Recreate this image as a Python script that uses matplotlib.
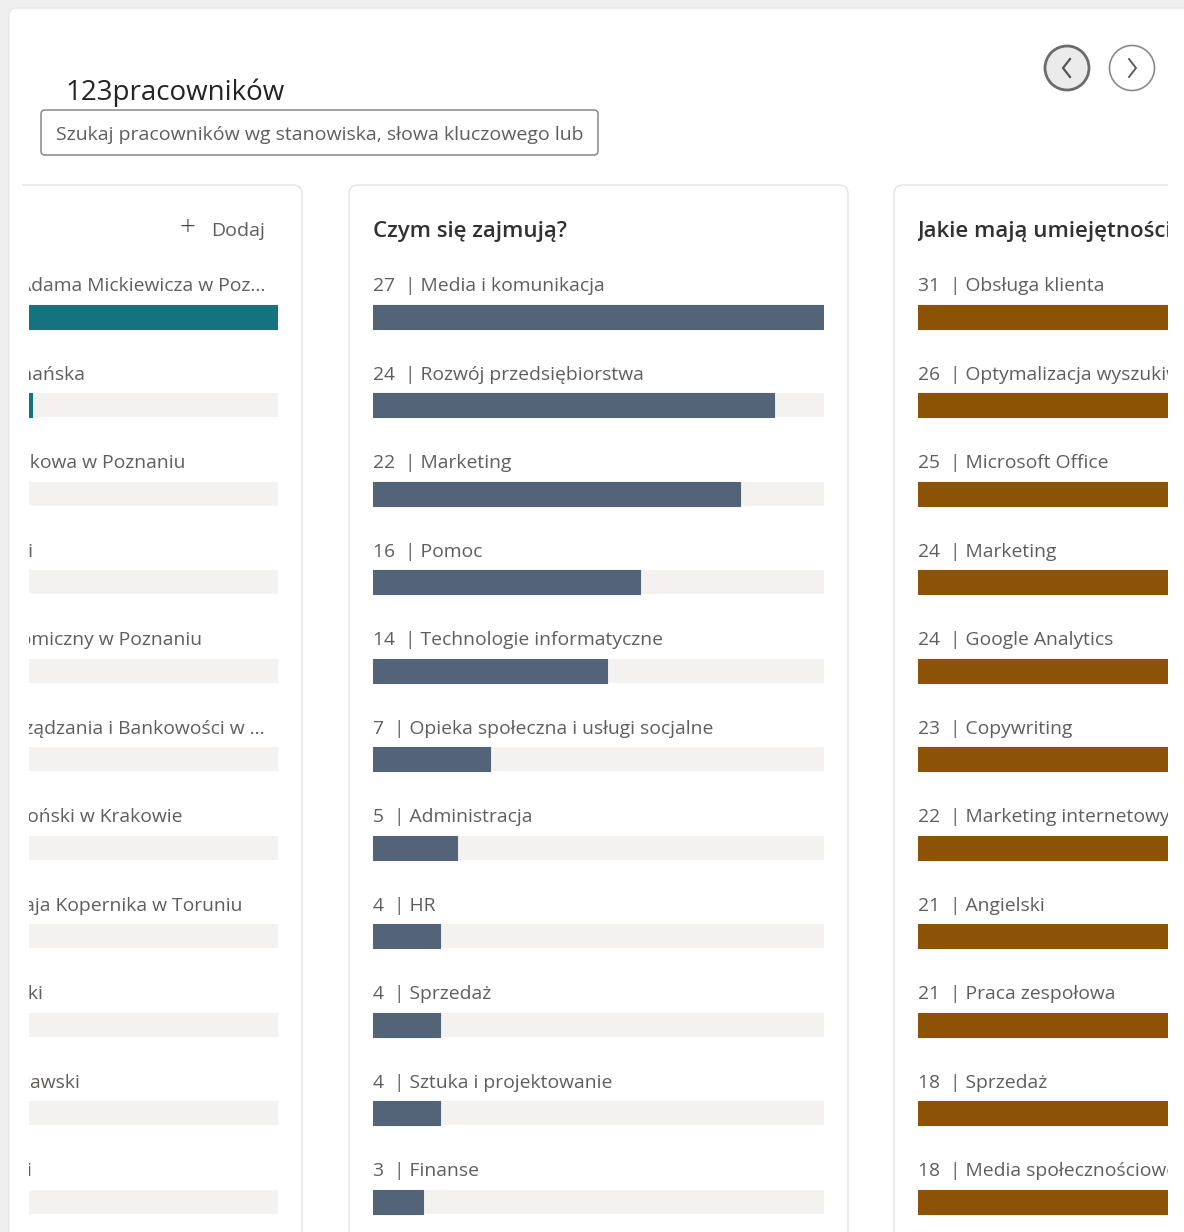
import matplotlib
matplotlib.use("Agg")
import matplotlib.pyplot as plt
from matplotlib.patches import FancyBboxPatch, Rectangle, Circle

plt.rcParams['font.family'] = ['Open Sans', 'DejaVu Sans']

# dane
title = "123pracowników"
search_hint = "Szukaj pracowników wg stanowiska, słowa kluczowego lub firmy"

school_title = "Gdzie studiowali?"
school_names = ["Uniwersytet im. Adama Mickiewicza w Poz...", "Politechnika Poznańska",
                "Wyższa Szkoła Bankowa w Poznaniu", "Uniwersytet Łódzki",
                "Uniwersytet Ekonomiczny w Poznaniu", "Wyższa Szkoła Zarządzania i Bankowości w ...",
                "Uniwersytet Jagielloński w Krakowie", "Uniwersytet Mikołaja Kopernika w Toruniu",
                "Uniwersytet Opolski", "Uniwersytet Warszawski", "Uniwersytet Kaliski"]
school_counts = [22, 10, 9, 8, 8, 7, 7, 6, 5, 5, 5]

job_title = "Czym się zajmują?"
job_names = ["Media i komunikacja", "Rozwój przedsiębiorstwa", "Marketing", "Pomoc",
             "Technologie informatyczne", "Opieka społeczna i usługi socjalne", "Administracja",
             "HR", "Sprzedaż", "Sztuka i projektowanie", "Finanse"]
job_counts = [27, 24, 22, 16, 14, 7, 5, 4, 4, 4, 3]

skill_title = "Jakie mają umiejętności?"
skill_names = ["Obsługa klienta", "Optymalizacja wyszukiwarek (SEO)", "Microsoft Office",
               "Marketing", "Google Analytics", "Copywriting", "Marketing internetowy",
               "Angielski", "Praca zespołowa", "Sprzedaż", "Media społecznościowe"]
skill_counts = [31, 26, 25, 24, 24, 23, 22, 21, 21, 18, 18]

W, H = 1184, 1232
GREY = '#605e5c'
DARK = '#323130'
TRACK = '#f3f2f1'

fig = plt.figure(figsize=(W / 100, H / 100), dpi=100)
fig.patch.set_facecolor('#efefef')

# tlo w pikselach
ax = fig.add_axes([0, 0, 1, 1])
ax.set_xlim(0, W)
ax.set_ylim(H, 0)
ax.axis('off')

ax.add_patch(FancyBboxPatch((9, 8), 1300, 1400, boxstyle="round,pad=0,rounding_size=8",
                            fc='white', ec='#e4e4e4', lw=0.8))

ax.text(65, 100, title, fontsize=20, color='#252423', va='baseline')

ax.add_patch(FancyBboxPatch((41, 110), 557, 45, boxstyle="round,pad=0,rounding_size=4",
                            fc='white', ec='#8a8886', lw=1.1))
t = ax.text(56, 140, search_hint, fontsize=14, color=GREY, va='baseline', clip_on=True)
t.set_clip_path(Rectangle((42, 111), 542, 43, transform=ax.transData))

# strzalki
ax.add_patch(Circle((1067, 68), 22, fc='#ebebeb', ec='#6b6b6b', lw=2.0))
ax.plot([1070, 1063, 1070], [59, 68, 77], color='#555555', lw=1.6, solid_joinstyle='miter')
ax.add_patch(Circle((1132, 68), 22.5, fc='white', ec='#8a8a8a', lw=1.2))
ax.plot([1129, 1136, 1129], [59, 68, 77], color='#555555', lw=1.3, solid_joinstyle='miter')

# karty paneli
viewport = Rectangle((22, 0), 1146, H, transform=ax.transData)
for cx in [-197, 349, 894]:
    card = FancyBboxPatch((cx, 185), 499, 1200, boxstyle="round,pad=0,rounding_size=9",
                          fc='white', ec='#e3e3e3', lw=1.0)
    ax.add_patch(card)
    card.set_clip_path(viewport)

ax.text(187, 228, "+", fontsize=20, color='#444444', ha='center', va='center', fontweight='light')
ax.text(211, 236, "Dodaj", fontsize=14, color=GREY, va='baseline')

ROW = 88.5
Y0 = 316.5
BAR_W = 451
CLIP_L, CLIP_R = 29, 1168


def px_to_row(y):
    return (y - Y0) / ROW


def panel(bar_x0, head, names, counts, color, text_dx=0):
    vmax = max(counts)
    x0 = max(bar_x0, CLIP_L)
    x1 = min(bar_x0 + BAR_W, CLIP_R)
    top, bottom = 200, H
    a = fig.add_axes([x0 / W, 1 - bottom / H, (x1 - x0) / W, (bottom - top) / H])
    a.set_xlim(vmax * (x0 - bar_x0) / BAR_W, vmax * (x1 - bar_x0) / BAR_W)
    a.set_ylim(px_to_row(bottom), px_to_row(top))
    a.axis('off')
    a.patch.set_visible(False)
    rows = list(range(len(counts)))
    h = 24 / ROW
    a.barh(rows, [vmax] * len(counts), height=h, color=TRACK, lw=0)
    a.barh(rows, counts, height=h, color=color, ec=color, lw=0.8, joinstyle='round')
    tx = vmax * text_dx / BAR_W
    a.text(tx, px_to_row(237), head, fontsize=16, fontweight='semibold', color=DARK,
           va='baseline', clip_on=True)
    for r, n, c in zip(rows, names, counts):
        a.text(tx, r + px_to_row(291), f"{c}  | {n}", fontsize=13.9, color=GREY,
               va='baseline', clip_on=True)
    return a


panel(278 - BAR_W, school_title, school_names, school_counts, '#15737f', text_dx=-1)
panel(373, job_title, job_names, job_counts, '#546478')
panel(918, skill_title, skill_names, skill_counts, '#8c5306')

fig.savefig('out.png', dpi=100, facecolor=fig.get_facecolor())
